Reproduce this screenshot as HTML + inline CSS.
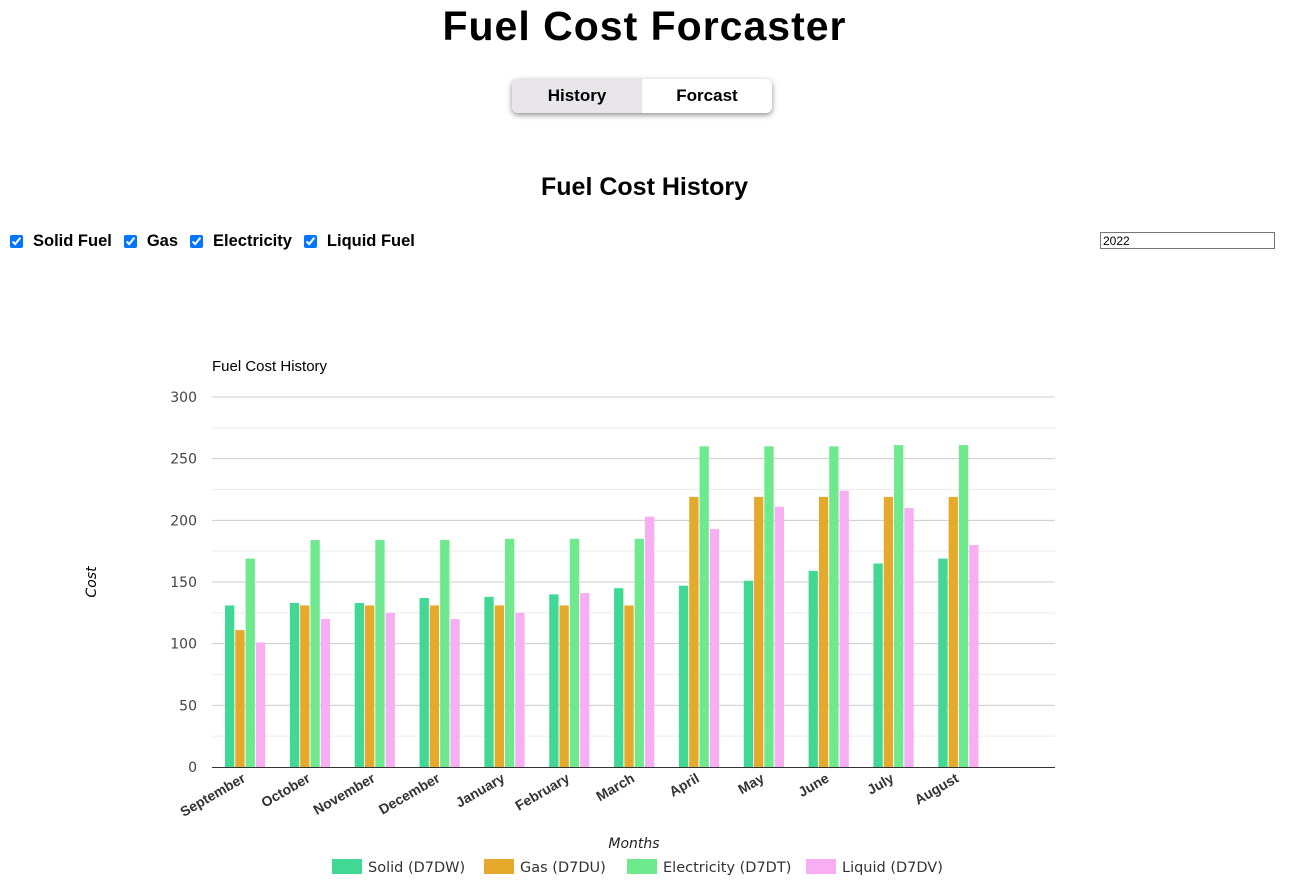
<!DOCTYPE html>
<html><head><meta charset="utf-8">
<style>
body{margin:0;width:1289px;height:891px;background:#fff;font-family:"Liberation Sans",sans-serif;color:#000;position:relative;overflow:hidden}
h1{position:absolute;top:3px;left:0;width:1289px;text-align:center;margin:0;font-size:41px;font-weight:bold;letter-spacing:1px}
.tabs{position:absolute;left:512px;top:79px;width:260px;height:34px;border-radius:6px;box-shadow:0 2px 6px rgba(0,0,0,.45);overflow:hidden;display:flex;font-size:17px;font-weight:bold}
.tabs div{flex:1;display:flex;align-items:center;justify-content:center}
h2{position:absolute;top:173px;left:0;width:1289px;text-align:center;margin:0;font-size:25px;font-weight:bold}
.checks{position:absolute;left:8px;top:232px;font-size:16.5px;font-weight:bold;display:flex;align-items:center}
.checks label{display:flex;align-items:center;margin-right:10px}
.checks input{margin:0 10px 0 2px;width:13px;height:13px;accent-color:#0075ff}
.year{position:absolute;left:1100px;top:232px;width:169px;height:15px;border:1px solid #767676;font-size:12px;padding:0 2px;box-sizing:content-box;font-family:"Liberation Sans",sans-serif}
</style></head><body>
<h1>Fuel Cost Forcaster</h1>
<div class="tabs">
<div style="background:#e8e6e8">History</div>
<div>Forcast</div>
</div>
<h2>Fuel Cost History</h2>
<div class="checks">
<label><input type="checkbox" checked>Solid Fuel</label>
<label><input type="checkbox" checked>Gas</label>
<label><input type="checkbox" checked>Electricity</label>
<label><input type="checkbox" checked>Liquid Fuel</label>
</div>
<input class="year" value="2022">
<svg id="chart" width="1289" height="891" style="position:absolute;left:0;top:0"></svg>
<script>
const categories=["September","October","November","December","January","February","March","April","May","June","July","August"];
const solid=[131,133,133,137,138,140,145,147,151,159,165,169];
const gas=[111,131,131,131,131,131,131,219,219,219,219,219];
const electricity=[169,184,184,184,185,185,185,260,260,260,261,261];
const liquid=[101,120,125,120,125,141,203,193,211,224,210,180];
const yTicks=[0,50,100,150,200,250,300];
const seriesNames=["Solid (D7DW)","Gas (D7DU)","Electricity (D7DT)","Liquid (D7DV)"];
const colors=["#41d895","#e5aa2c","#6ee98d","#f7aef3"];
const svg=document.getElementById('chart');const NS="http://www.w3.org/2000/svg";
function mk(t,a,txt){const e=document.createElementNS(NS,t);for(const k in a)e.setAttribute(k,a[k]);if(txt!=null)e.textContent=txt;svg.appendChild(e);return e;}
const x0=212,x1=1055,yB=767,yT=397,slot=(x1-x0)/13;
const y=v=>yB-(v/300)*(yB-yT);
const F='"DejaVu Sans","Liberation Sans",sans-serif';
for(let v=0;v<=300;v+=25){if(v%50){const l=mk('line',{x1:x0,x2:x1,y1:y(v),y2:y(v),stroke:'#ececec'});}}
yTicks.forEach(v=>{if(v>0){const l=mk('line',{x1:x0,x2:x1,y1:y(v),y2:y(v),stroke:'#cccccc'});}
const t=mk('text',{x:197,y:y(v)+5,'text-anchor':'end','font-size':14,fill:'#444','font-family':F},v);});
const ax=mk('line',{x1:x0,x2:x1,y1:yB+.5,y2:yB+.5,stroke:'#333'});
const series=[solid,gas,electricity,liquid];
categories.forEach((c,i)=>{const gx=x0+i*slot+13;
series.forEach((s,j)=>{const r=mk('rect',{x:gx+j*10.3,y:y(s[i]),width:9.3,height:yB-y(s[i]),fill:colors[j]});});
const cx=x0+i*slot+slot/2+2;
const t=mk('text',{x:cx,y:781,'text-anchor':'end','font-size':14,'font-weight':'bold',fill:'#333','font-family':'"Liberation Sans",sans-serif',transform:`rotate(-30 ${cx} 781)`},c);});
let tt=mk('text',{x:212,y:371,'font-size':15,'font-family':'"Liberation Sans",sans-serif',fill:'#000'},'Fuel Cost History');
tt=mk('text',{x:96,y:582,'font-size':14,'font-style':'italic','text-anchor':'middle','font-family':F,transform:'rotate(-90 96 582)'},'Cost');
tt=mk('text',{x:634,y:848,'font-size':14,'font-style':'italic','text-anchor':'middle','font-family':F,fill:'#222'},'Months');
const lx=[332,484,627,806];
seriesNames.forEach((n,j)=>{const r=mk('rect',{x:lx[j],y:859,width:30,height:15,fill:colors[j]});
const t=mk('text',{x:lx[j]+36,y:872,'font-size':14.5,fill:'#333','font-family':F},n);});
</script>
</body></html>
